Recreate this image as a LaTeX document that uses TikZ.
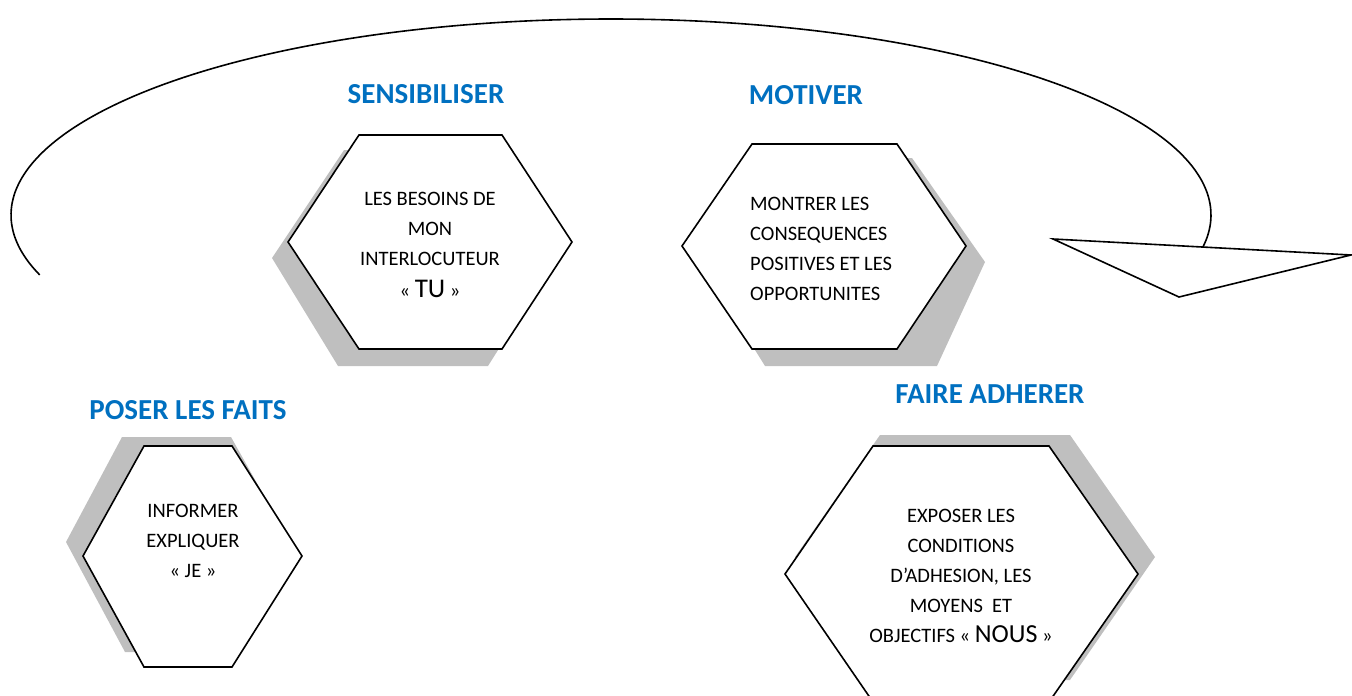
\documentclass[tikz,border=0pt]{standalone}
\usepackage{fontspec}
\setmainfont{Carlito}
\definecolor{titleblue}{HTML}{0070C0}
\definecolor{shadowgray}{HTML}{BFBFBF}

\begin{document}
\begin{tikzpicture}[x=1pt,y=-1pt,
  outline/.style={draw=black, fill=white, line width=1.6pt, line join=miter},
  hexshadow/.style={fill=shadowgray, draw=none},
  heading/.style={font=\fontsize{29}{34}\selectfont\bfseries, text=titleblue, inner sep=0pt},
  body/.style={font=\fontsize{20.5}{30}\selectfont, align=center, inner sep=0pt}
  ]
\useasboundingbox (0,0) rectangle (1352,696);

% return loop over the top and its arrow head
\coordinate (loopstart) at (39,275);
\draw[line width=1.6pt] plot[domain=162.2:369.7, samples=160, smooth]
  ({611+600*cos(\x)},{215+196*sin(\x)}) coordinate (loopend);
\coordinate (headA) at (1053,239);
\coordinate (headB) at (1351,255);
\coordinate (headC) at (1179,297);
\draw[outline] (headA) -- (headB) -- (headC) -- cycle;

% shadows
\fill[hexshadow] (344,150) -- (487,150) -- (556,258) -- (488,366) -- (338,366) -- (272,258) -- cycle;
\fill[hexshadow] (765,158) -- (912,158) -- (985,262) -- (937,366) -- (765,366) -- (700,262) -- cycle;
\fill[hexshadow] (122,437) -- (231,437) -- (290,542) -- (220,652) -- (125,652) -- (66,542) -- cycle;
\fill[hexshadow] (880,435) -- (1070,435) -- (1155,557) -- (1070,680) -- (880,680) -- (795,557) -- cycle;

% hexagons
\draw[outline] (359,135) -- (502,135) -- (572,242) -- (502,349) -- (359,349) -- (288,242) -- cycle;
\draw[outline] (752,144) -- (897,144) -- (966,246) -- (897,349) -- (752,349) -- (682,246) -- cycle;
\draw[outline] (144,446) -- (232,446) -- (302,556) -- (232,667) -- (144,667) -- (83,556) -- cycle;
\draw[outline] (873,446) -- (1049,446) -- (1138,574) -- (1049,702) -- (873,702) -- (785,574) -- cycle;

% headings
\node[heading] (sens) at (426,94) {SENSIBILISER};
\node[heading] (motiv) at (806,95) {MOTIVER};
\node[heading] (faits) at (188,410) {POSER LES FAITS};
\node[heading] (adh) at (990,394) {FAIRE ADHERER};

% hexagon texts
\node[body] (tu) at (430,245) {LES BESOINS DE\\MON\\INTERLOCUTEUR\\[2pt]« {\fontsize{27}{30}\selectfont TU} »};
\node[body, align=left, anchor=west] (opp) at (750,249) {MONTRER LES\\CONSEQUENCES\\POSITIVES ET LES\\OPPORTUNITES};
\node[body] (je) at (193,541) {INFORMER\\EXPLIQUER\\« JE »};
\node[body] (nous) at (961,576) {EXPOSER LES\\CONDITIONS\\D’ADHESION, LES\\MOYENS~~ET\\OBJECTIFS « {\fontsize{26}{30}\selectfont NOUS} »};
\end{tikzpicture}
\end{document}
